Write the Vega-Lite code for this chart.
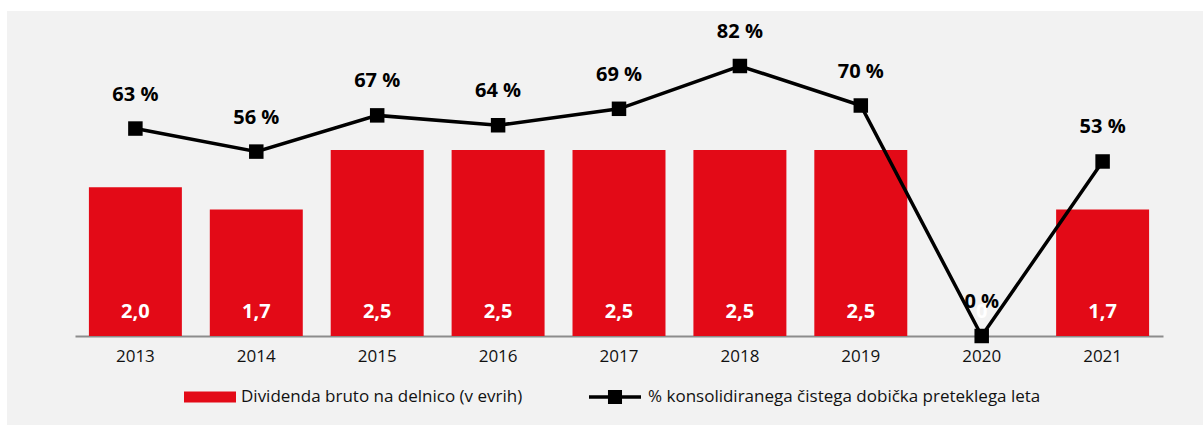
{
  "$schema": "https://vega.github.io/schema/vega-lite/v6.json",
  "width": 1196,
  "height": 414,
  "autosize": {"type": "none"},
  "padding": {"left": 7, "top": 11, "right": 0, "bottom": 0},
  "background": "white",
  "config": {"view": {"fill": "#f2f2f2", "stroke": null}, "font": "Open Sans"},
  "data": {
    "values": [
      {"year": "2013", "div": 2.0, "divLabel": "2,0", "pct": 63, "pctLabel": "63 %"},
      {"year": "2014", "div": 1.7, "divLabel": "1,7", "pct": 56, "pctLabel": "56 %"},
      {"year": "2015", "div": 2.5, "divLabel": "2,5", "pct": 67, "pctLabel": "67 %"},
      {"year": "2016", "div": 2.5, "divLabel": "2,5", "pct": 64, "pctLabel": "64 %"},
      {"year": "2017", "div": 2.5, "divLabel": "2,5", "pct": 69, "pctLabel": "69 %"},
      {"year": "2018", "div": 2.5, "divLabel": "2,5", "pct": 82, "pctLabel": "82 %"},
      {"year": "2019", "div": 2.5, "divLabel": "2,5", "pct": 70, "pctLabel": "70 %"},
      {"year": "2020", "div": 0, "divLabel": "0", "pct": 0, "pctLabel": "0 %"},
      {"year": "2021", "div": 1.7, "divLabel": "1,7", "pct": 53, "pctLabel": "53 %"}
    ]
  },
  "encoding": {
    "x": {
      "field": "year",
      "type": "nominal",
      "sort": null,
      "scale": {"range": [68, 1156], "paddingInner": 0.231, "paddingOuter": 0.115},
      "axis": {
        "title": null,
        "labelAngle": 0,
        "ticks": false,
        "grid": false,
        "domainColor": "#8c8c8c",
        "domainWidth": 2,
        "labelFontSize": 17,
        "labelColor": "#111111",
        "labelFont": "Open Sans",
        "labelPadding": 12,
        "offset": -89
      }
    }
  },
  "layer": [
    {
      "mark": {"type": "bar", "color": "#e30a17"},
      "encoding": {
        "y": {"field": "div", "type": "quantitative", "scale": {"domain": [-1.196, 4.368], "nice": false}, "axis": null},
        "color": {
          "datum": "Dividenda bruto na delnico (v evrih)",
          "scale": {"range": ["#e30a17"]},
          "legend": {
            "title": null,
            "orient": "none",
            "legendX": 177,
            "legendY": 360,
            "padding": 0,
            "symbolType": "M-1,-0.21H1V0.21H-1Z",
            "symbolSize": 2704,
            "symbolStrokeWidth": 0,
            "symbolOpacity": 1,
            "labelFontSize": 17,
            "labelColor": "#111111",
            "labelFont": "Open Sans",
            "labelOffset": 5,
            "labelLimit": 0
          }
        }
      }
    },
    {
      "mark": {"type": "line", "strokeWidth": 3.5, "color": "black"},
      "encoding": {
        "y": {"field": "pct", "type": "quantitative", "scale": {"domain": [-27.03, 98.7], "nice": false}, "axis": null},
        "stroke": {
          "datum": "% konsolidiranega čistega dobička preteklega leta",
          "scale": {"range": ["black"]},
          "legend": {
            "title": null,
            "orient": "none",
            "legendX": 582,
            "legendY": 360,
            "padding": 0,
            "symbolType": "M-1,-0.065H1V0.065H-1Z M-0.27,-0.27H0.27V0.27H-0.27Z",
            "symbolSize": 2704,
            "symbolStrokeWidth": 0,
            "symbolOpacity": 1,
            "labelFontSize": 17,
            "labelColor": "#111111",
            "labelFont": "Open Sans",
            "labelOffset": 7,
            "labelLimit": 0,
            "symbolFillColor": "black",
            "encode": {"symbols": {"update": {"fill": {"value": "black"}, "strokeWidth": {"value": 0}}}}
          }
        }
      }
    },
    {
      "mark": {"type": "point", "shape": "square", "filled": true, "size": 210, "color": "black", "opacity": 1},
      "encoding": {
        "y": {"field": "pct", "type": "quantitative", "scale": {"domain": [-27.03, 98.7], "nice": false}, "axis": null}
      }
    },
    {
      "mark": {"type": "text", "fontWeight": "bold", "fontSize": 20, "dy": -34, "baseline": "middle", "color": "black", "font": "Open Sans"},
      "encoding": {
        "y": {"field": "pct", "type": "quantitative", "scale": {"domain": [-27.03, 98.7], "nice": false}, "axis": null},
        "text": {"field": "pctLabel"}
      }
    },
    {
      "mark": {"type": "text", "fontWeight": "bold", "fontSize": 20, "dy": -24, "baseline": "middle", "color": "white", "font": "Open Sans"},
      "encoding": {
        "y": {"datum": 0, "type": "quantitative", "scale": {"domain": [-1.196, 4.368], "nice": false}, "axis": null},
        "text": {"field": "divLabel"}
      }
    }
  ],
  "resolve": {"scale": {"y": "independent"}}
}
